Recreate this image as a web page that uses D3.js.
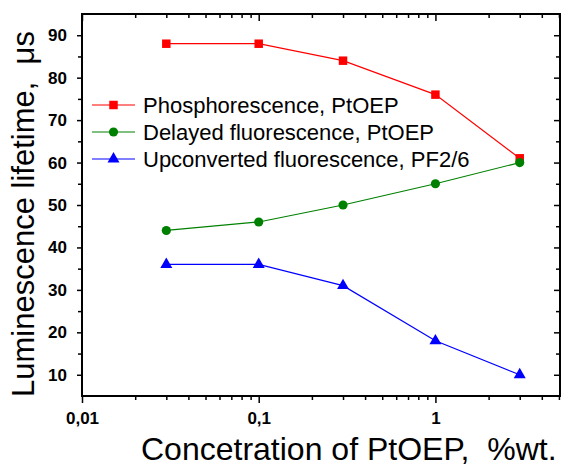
<!DOCTYPE html>
<html>
<head>
<meta charset="utf-8">
<script src="https://cdn.jsdelivr.net/npm/d3@7"></script>
<style>
  body { margin: 0; background: #fff; }
  svg { display: block; font-family: Arial, "Liberation Sans", sans-serif; }
  .title { white-space: pre; }
</style>
</head>
<body>
<div id="chart"></div>
<script>
// concentrations (%wt.)
const concentrations = [0.03, 0.1, 0.3, 1, 3];
// lifetimes, µs
const phosphorescence = [88, 88, 84, 76, 61];
const delayedFluor = [44, 46, 50, 55, 60];
const upconvertedFluor = [36, 36, 31, 18, 10];

const seriesNames = ["Phosphorescence, PtOEP", "Delayed fluorescence, PtOEP", "Upconverted fluorescence, PF2/6"];
const xTickValues = [0.01, 0.1, 1];
const xTickLabels = ["0,01", "0,1", "1"];
const yTickValues = [10, 20, 30, 40, 50, 60, 70, 80, 90];

const width = 568, height = 467;
const margin = { top: 14, right: 8, bottom: 71, left: 82 };
const w = width - margin.left - margin.right;
const h = height - margin.top - margin.bottom;

const svg = d3.select("#chart").append("svg")
    .attr("width", width)
    .attr("height", height);

const x = d3.scaleLog().domain([0.01, 5.07]).range([0, w]);
const y = d3.scaleLinear().domain([5, 95]).range([h, 0]);

const g = svg.append("g").attr("transform", `translate(${margin.left},${margin.top})`);

// minor ticks for log axis
let xMinor = [];
[0.01, 0.1, 1].forEach(d => {
    for (let k = 2; k <= 9; k++) {
        const v = d * k;
        if (v <= 5.07) xMinor.push(v);
    }
});
const yMinor = d3.range(15, 95, 10);

// bottom axis (ticks out)
const bottomAxis = g.append("g").attr("transform", `translate(0,${h})`);
bottomAxis.call(d3.axisBottom(x).tickValues(xTickValues).tickSize(7).tickFormat((d, i) => xTickLabels[i]));
bottomAxis.append("g").call(d3.axisBottom(x).tickValues(xMinor).tickSize(4).tickFormat(""));

// top axis (ticks in)
const topAxis = g.append("g");
topAxis.call(d3.axisBottom(x).tickValues(xTickValues).tickSize(7).tickFormat(""));
topAxis.append("g").call(d3.axisBottom(x).tickValues(xMinor).tickSize(4).tickFormat(""));

// left axis (ticks out)
const leftAxis = g.append("g");
leftAxis.call(d3.axisLeft(y).tickValues(yTickValues).tickSize(5).tickPadding(10));
leftAxis.append("g").call(d3.axisLeft(y).tickValues(yMinor).tickSize(4).tickFormat(""));

// right axis (ticks in)
const rightAxis = g.append("g").attr("transform", `translate(${w},0)`);
rightAxis.call(d3.axisLeft(y).tickValues(yTickValues).tickSize(6).tickFormat(""));
rightAxis.append("g").call(d3.axisLeft(y).tickValues(yMinor).tickSize(4).tickFormat(""));

g.selectAll(".domain").remove();
g.selectAll(".tick line").attr("stroke", "#000").attr("stroke-width", 1.5);
g.selectAll(".tick text").attr("fill", "#000").style("font-size", "17px").style("font-weight", "bold");
bottomAxis.selectAll(".tick text").attr("dy", "1.05em");

// frame
g.append("rect")
    .attr("x", 0).attr("y", 0).attr("width", w).attr("height", h)
    .attr("fill", "none").attr("stroke", "#000").attr("stroke-width", 2);

const series = [
    { name: seriesNames[0], values: phosphorescence, color: "#ff0000", shape: d3.symbolSquare, size: 72 },
    { name: seriesNames[1], values: delayedFluor, color: "#008000", shape: d3.symbolCircle, size: 66 },
    { name: seriesNames[2], values: upconvertedFluor, color: "#0000ff", shape: d3.symbolTriangle, size: 62 }
];

const line = d3.line().x(d => x(d[0])).y(d => y(d[1]));

series.forEach(s => {
    const pts = concentrations.map((c, i) => [c, s.values[i]]);
    g.append("path")
        .datum(pts)
        .attr("d", line)
        .attr("fill", "none")
        .attr("stroke", s.color)
        .attr("stroke-width", 1.2);
    g.selectAll(null)
        .data(pts)
        .enter().append("path")
        .attr("transform", d => `translate(${x(d[0])},${y(d[1])})`)
        .attr("d", d3.symbol().type(s.shape).size(s.size))
        .attr("fill", s.color);
});

// legend
const legend = svg.append("g").attr("transform", "translate(92,105)");
series.forEach((s, i) => {
    const row = legend.append("g").attr("transform", `translate(0,${i * 27})`);
    row.append("line").attr("x1", 0).attr("x2", 43).attr("y1", 0).attr("y2", 0)
        .attr("stroke", s.color).attr("stroke-width", 1.2);
    row.append("path").attr("transform", "translate(21.5,0)")
        .attr("d", d3.symbol().type(s.shape).size(s.size)).attr("fill", s.color);
    row.append("text").attr("x", 51).attr("y", 8)
        .style("font-size", "22px").attr("fill", "#000").text(s.name);
});

// axis titles
svg.append("text")
    .attr("class", "title")
    .attr("x", 141).attr("y", 460)
    .style("font-size", "32px").attr("fill", "#000")
    .text("Concetration of PtOEP,  %wt.");

svg.append("text")
    .attr("class", "title")
    .attr("transform", "translate(34,397) rotate(-90)")
    .style("font-size", "31px").attr("fill", "#000")
    .text("Luminescence lifetime,  μs");
</script>
</body>
</html>
